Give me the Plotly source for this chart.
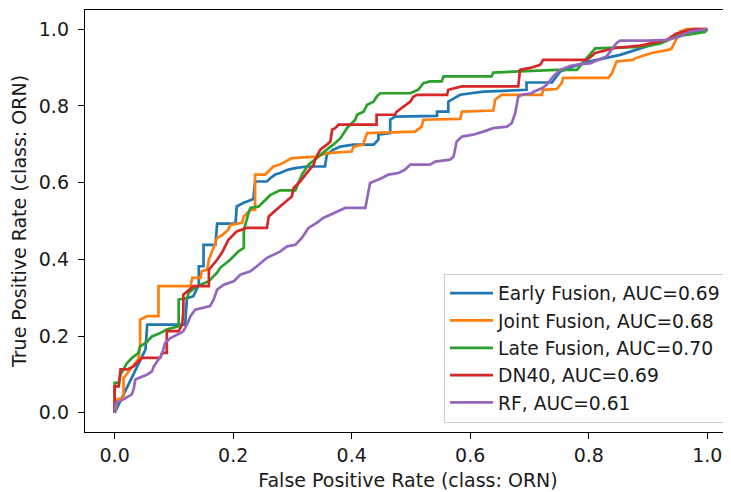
import plotly.graph_objects as go

# ---------------- data ----------------
labels = ["Early Fusion, AUC=0.69", "Joint Fusion, AUC=0.68",
          "Late Fusion, AUC=0.70", "DN40, AUC=0.69", "RF, AUC=0.61"]
colors = ["#1f77b4", "#ff7f0e", "#2ca02c", "#d62728", "#9467bd"]

early_fpr = [0, 0.043, 0.052, 0.055, 0.119, 0.122, 0.133, 0.142, 0.142, 0.150, 0.150, 0.170, 0.173,
             0.204, 0.206, 0.217, 0.234, 0.237, 0.257, 0.263, 0.271, 0.279, 0.293, 0.305, 0.324,
             0.355, 0.358, 0.369, 0.381, 0.403, 0.437, 0.445, 0.445, 0.465, 0.465, 0.473, 0.544,
             0.544, 0.563, 0.563, 0.572, 0.583, 0.622, 0.695, 0.695, 0.738, 0.752, 0.774, 0.802,
             0.853, 0.932, 0.954, 0.999, 1.0]
early_tpr = [0, 0.139, 0.165, 0.230, 0.230, 0.299, 0.304, 0.334, 0.382, 0.382, 0.438, 0.438, 0.493,
             0.493, 0.538, 0.547, 0.557, 0.603, 0.603, 0.612, 0.621, 0.625, 0.634, 0.638, 0.642,
             0.642, 0.673, 0.686, 0.694, 0.699, 0.699, 0.712, 0.725, 0.729, 0.764, 0.772, 0.774,
             0.785, 0.785, 0.811, 0.820, 0.829, 0.837, 0.842, 0.861, 0.861, 0.890, 0.903, 0.916,
             0.933, 0.972, 0.985, 0.998, 1.0]

joint_fpr = [0, 0.005, 0.015, 0.015, 0.030, 0.040, 0.043, 0.043, 0.055, 0.074, 0.074, 0.128, 0.131,
             0.145, 0.147, 0.156, 0.159, 0.166, 0.173, 0.182, 0.192, 0.195, 0.215, 0.218, 0.229,
             0.237, 0.237, 0.254, 0.268, 0.279, 0.299, 0.341, 0.358, 0.400, 0.403, 0.419, 0.423,
             0.426, 0.507, 0.518, 0.521, 0.583, 0.586, 0.639, 0.642, 0.653, 0.721, 0.723, 0.746,
             0.754, 0.757, 0.833, 0.839, 0.847, 0.875, 0.878, 0.906, 0.934, 0.940, 0.946, 0.954,
             0.965, 1.0]
joint_tpr = [0, 0.035, 0.040, 0.090, 0.120, 0.140, 0.173, 0.243, 0.252, 0.252, 0.330, 0.330, 0.352,
             0.352, 0.369, 0.373, 0.399, 0.425, 0.456, 0.464, 0.477, 0.490, 0.495, 0.512, 0.529,
             0.529, 0.621, 0.621, 0.642, 0.647, 0.664, 0.668, 0.677, 0.681, 0.694, 0.699, 0.716,
             0.729, 0.733, 0.746, 0.764, 0.766, 0.785, 0.788, 0.816, 0.829, 0.829, 0.842, 0.844,
             0.859, 0.873, 0.873, 0.885, 0.916, 0.920, 0.924, 0.938, 0.946, 0.950, 0.968, 0.994,
             1.0, 1.0]

late_fpr = [0, 0, 0.007, 0.010, 0.021, 0.030, 0.040, 0.043, 0.053, 0.063, 0.077, 0.088, 0.108,
            0.108, 0.122, 0.125, 0.139, 0.159, 0.173, 0.178, 0.195, 0.209, 0.218, 0.218, 0.226,
            0.229, 0.243, 0.254, 0.263, 0.279, 0.305, 0.316, 0.327, 0.338, 0.350, 0.358, 0.369,
            0.381, 0.392, 0.406, 0.409, 0.420, 0.426, 0.437, 0.442, 0.448, 0.499, 0.504, 0.512,
            0.521, 0.532, 0.552, 0.555, 0.636, 0.639, 0.746, 0.780, 0.794, 0.811, 0.889, 0.920,
            0.948, 0.996, 1.0]
late_tpr = [0, 0.078, 0.078, 0.100, 0.130, 0.144, 0.156, 0.173, 0.183, 0.199, 0.208, 0.217, 0.226,
            0.295, 0.299, 0.313, 0.330, 0.343, 0.365, 0.378, 0.399, 0.421, 0.430, 0.477, 0.521,
            0.534, 0.538, 0.555, 0.568, 0.580, 0.580, 0.621, 0.647, 0.660, 0.677, 0.686, 0.699,
            0.716, 0.742, 0.764, 0.777, 0.785, 0.803, 0.811, 0.824, 0.833, 0.833, 0.837, 0.842,
            0.859, 0.864, 0.864, 0.877, 0.877, 0.887, 0.894, 0.894, 0.920, 0.950, 0.954, 0.962,
            0.981, 0.993, 1.0]

dn40_fpr = [0, 0, 0.007, 0.010, 0.021, 0.032, 0.040, 0.046, 0.077, 0.080, 0.088, 0.088, 0.108,
            0.114, 0.116, 0.116, 0.133, 0.159, 0.159, 0.166, 0.173, 0.181, 0.192, 0.206, 0.223,
            0.257, 0.260, 0.279, 0.299, 0.302, 0.313, 0.324, 0.336, 0.338, 0.347, 0.358, 0.364,
            0.367, 0.372, 0.378, 0.442, 0.442, 0.473, 0.476, 0.487, 0.499, 0.504, 0.510, 0.561,
            0.563, 0.586, 0.681, 0.684, 0.701, 0.718, 0.723, 0.797, 0.811, 0.844, 0.887, 0.932,
            0.947, 0.976, 1.0]
dn40_tpr = [0, 0.069, 0.069, 0.113, 0.113, 0.121, 0.134, 0.143, 0.143, 0.156, 0.156, 0.213, 0.213,
            0.230, 0.265, 0.308, 0.330, 0.330, 0.373, 0.386, 0.399, 0.417, 0.451, 0.473, 0.482,
            0.482, 0.512, 0.538, 0.564, 0.586, 0.603, 0.625, 0.647, 0.660, 0.686, 0.699, 0.707,
            0.738, 0.742, 0.751, 0.751, 0.777, 0.777, 0.785, 0.798, 0.811, 0.824, 0.829, 0.829,
            0.842, 0.851, 0.851, 0.894, 0.899, 0.907, 0.920, 0.920, 0.938, 0.951, 0.957, 0.972,
            0.988, 1.0, 1.0]

rf_fpr = [0, 0.002, 0.015, 0.029, 0.032, 0.035, 0.055, 0.063, 0.066, 0.072, 0.080, 0.085, 0.094,
          0.111, 0.116, 0.122, 0.128, 0.136, 0.161, 0.167, 0.173, 0.184, 0.201, 0.212, 0.229,
          0.240, 0.257, 0.279, 0.291, 0.305, 0.316, 0.327, 0.341, 0.352, 0.364, 0.378, 0.389,
          0.423, 0.431, 0.451, 0.462, 0.479, 0.490, 0.499, 0.532, 0.541, 0.566, 0.572, 0.577,
          0.586, 0.605, 0.622, 0.639, 0.662, 0.670, 0.676, 0.681, 0.687, 0.704, 0.707, 0.721,
          0.729, 0.740, 0.752, 0.768, 0.785, 0.802, 0.830, 0.847, 0.853, 0.898, 0.932, 0.954,
          0.971, 1.0]
rf_tpr = [0, 0.026, 0.035, 0.048, 0.061, 0.087, 0.100, 0.108, 0.121, 0.134, 0.152, 0.182, 0.195,
          0.208, 0.213, 0.230, 0.252, 0.269, 0.278, 0.295, 0.321, 0.334, 0.343, 0.360, 0.369,
          0.382, 0.404, 0.420, 0.434, 0.438, 0.456, 0.482, 0.495, 0.508, 0.516, 0.525, 0.534,
          0.534, 0.599, 0.612, 0.621, 0.625, 0.634, 0.647, 0.647, 0.655, 0.660, 0.668, 0.707,
          0.720, 0.725, 0.733, 0.742, 0.746, 0.755, 0.782, 0.824, 0.829, 0.833, 0.837, 0.846,
          0.855, 0.877, 0.894, 0.904, 0.909, 0.911, 0.929, 0.964, 0.970, 0.970, 0.972, 0.981,
          0.994, 1.0]

tick_vals = [0.0, 0.2, 0.4, 0.6, 0.8, 1.0]
tick_text = ["0.0", "0.2", "0.4", "0.6", "0.8", "1.0"]
x_title = "False Positive Rate (class: ORN)"
y_title = "True Positive Rate (class: ORN)"

series = [(early_fpr, early_tpr), (joint_fpr, joint_tpr), (late_fpr, late_tpr),
          (dn40_fpr, dn40_tpr), (rf_fpr, rf_tpr)]

# ---------------- figure ----------------
# The page body has an 8px margin, so the figure is offset to line up with the window.
FONT = "DejaVu Sans"
FS = 19
TXT = "#1a1a1a"

fig = go.Figure()
for i, ((fx, ty), name, col) in enumerate(zip(series, labels, colors)):
    fig.add_trace(go.Scatter(x=fx, y=ty, mode="lines", name=name,
                             legendgroup=f"g{i}",
                             line=dict(color=col, width=2.7)))

axis_common = dict(
    showgrid=False, zeroline=False,
    showline=True, linecolor="black", linewidth=1.4,
    ticks="outside", ticklen=6, tickwidth=1.4, tickcolor="black",
    tickvals=tick_vals, ticktext=tick_text,
    tickfont=dict(family=FONT, size=FS, color=TXT),
)

fig.update_layout(
    width=723, height=490,
    margin=dict(l=77, r=0, t=2, b=66, autoexpand=False),
    paper_bgcolor="white", plot_bgcolor="white",
    font=dict(family=FONT, size=FS, color=TXT),
    xaxis=dict(range=[-0.05, 1.04], mirror=True, automargin=True,
               title=dict(text=x_title, font=dict(family=FONT, size=FS, color=TXT), standoff=8),
               **axis_common),
    yaxis=dict(range=[-0.05, 1.05], mirror=False, automargin=False, ticklabelstandoff=5,
               title=dict(text=y_title, font=dict(family=FONT, size=FS, color=TXT), standoff=14),
               **axis_common),
    legend=dict(x=0.9923, y=0.0225, xanchor="right", yanchor="bottom",
                bgcolor="rgba(255,255,255,0.8)", bordercolor="#cccccc", borderwidth=1,
                font=dict(family=FONT, size=18.7, color=TXT),
                tracegroupgap=4, itemwidth=43, traceorder="normal"),
    showlegend=True,
)

fig.write_html("out.html")
